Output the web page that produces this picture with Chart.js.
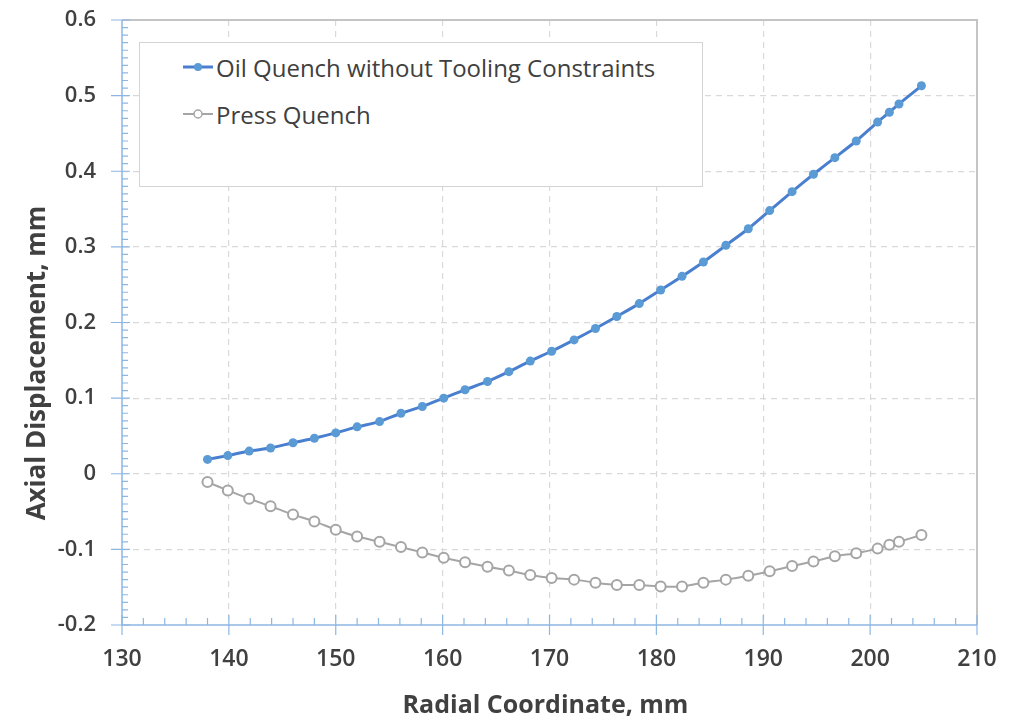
<!DOCTYPE html>
<html>
<head>
<meta charset="utf-8">
<script src="https://cdn.jsdelivr.net/npm/chart.js@4.4.1/dist/chart.umd.min.js"></script>
<style>
  html, body { margin: 0; padding: 0; background: #fff; }
  #wrap { position: relative; width: 1025px; height: 720px; }
  #legend {
    position: absolute; left: 139px; top: 42px; width: 564px; height: 145px;
    background: #fff; border: 1.5px solid #d4d4d4; box-sizing: border-box;
    font-family: "Open Sans", sans-serif; font-size: 24px; color: #404040;
  }
  .row { position: absolute; left: 43px; display: flex; align-items: center; height: 32px; }
  .row svg { margin-right: 3px; }
</style>
</head>
<body>
<div id="wrap">
  <canvas id="chart" width="1025" height="720"></canvas>
  <div id="legend">
    <div class="row" style="top:8px">
      <svg width="30" height="14"><line x1="0" y1="7" x2="30" y2="7" stroke="#4a7fcf" stroke-width="3"/><circle cx="15" cy="7" r="4" fill="#5b9bd5"/></svg>
      <span>Oil Quench without Tooling Constraints</span>
    </div>
    <div class="row" style="top:55px">
      <svg width="30" height="14"><line x1="0" y1="7" x2="30" y2="7" stroke="#a5a5a5" stroke-width="2"/><circle cx="15" cy="7" r="4" fill="#fff" stroke="#a5a5a5" stroke-width="1.5"/></svg>
      <span>Press Quench</span>
    </div>
  </div>
</div>
<script>
// data
const radial = [138.0, 139.9, 141.9, 143.9, 146.0, 148.0, 150.0, 152.0, 154.1, 156.1, 158.1, 160.1,
  162.1, 164.2, 166.2, 168.2, 170.2, 172.3, 174.3, 176.3, 178.4, 180.4, 182.4, 184.4, 186.5, 188.6,
  190.6, 192.7, 194.7, 196.7, 198.7, 200.7, 201.8, 202.7, 204.8];
const oilQuench = [0.019, 0.024, 0.030, 0.034, 0.041, 0.047, 0.054, 0.062, 0.069, 0.080, 0.089, 0.100,
  0.111, 0.122, 0.135, 0.149, 0.162, 0.177, 0.192, 0.208, 0.225, 0.243, 0.261, 0.280, 0.302, 0.324,
  0.348, 0.373, 0.396, 0.418, 0.440, 0.465, 0.478, 0.489, 0.513];
const pressQuench = [-0.011, -0.022, -0.033, -0.043, -0.054, -0.063, -0.074, -0.083, -0.090, -0.097,
  -0.104, -0.111, -0.117, -0.123, -0.128, -0.134, -0.138, -0.140, -0.144, -0.147, -0.147, -0.149,
  -0.149, -0.144, -0.140, -0.135, -0.129, -0.122, -0.116, -0.109, -0.105, -0.099, -0.094, -0.090, -0.081];

const xTicks = [130, 140, 150, 160, 170, 180, 190, 200, 210];
const yTicks = [-0.2, -0.1, 0, 0.1, 0.2, 0.3, 0.4, 0.5, 0.6];
const xTitle = 'Radial Coordinate, mm';
const yTitle = 'Axial Displacement, mm';

const axisBlue = '#8db7e3';
const gridGray = '#d9d9d9';

function pts(ys) {
  return radial.map((x, i) => ({ x: x, y: ys[i] }));
}

// grid line hidden on the edges (box and axes drawn by plugin)
function edgeHidden(min, max) {
  return c => (Math.abs(c.tick.value - min) < 1e-9 || Math.abs(c.tick.value - max) < 1e-9) ? 'rgba(0,0,0,0)' : gridGray;
}

// frame, minor ticks and axis titles
const decor = {
  id: 'decor',
  afterDraw(chart) {
    const ctx = chart.ctx;
    const a = chart.chartArea;
    const xs = chart.scales.x, ys = chart.scales.y;
    ctx.save();
    // top + right frame
    ctx.strokeStyle = '#c4c4c4';
    ctx.lineWidth = 2;
    ctx.beginPath();
    ctx.moveTo(a.left, a.top); ctx.lineTo(a.right, a.top); ctx.lineTo(a.right, a.bottom);
    ctx.stroke();
    // axes
    ctx.strokeStyle = axisBlue;
    ctx.lineWidth = 1.5;
    ctx.beginPath();
    ctx.moveTo(a.left, a.top); ctx.lineTo(a.left, a.bottom); ctx.lineTo(a.right, a.bottom);
    ctx.stroke();
    ctx.lineWidth = 1.2;
    ctx.beginPath();
    for (let v = 130; v <= 210.001; v += 2) {
      const px = xs.getPixelForValue(v);
      const major = Math.abs(v % 10) < 1e-6;
      ctx.moveTo(px, a.bottom - (major ? 10 : 7));
      ctx.lineTo(px, a.bottom + (major ? 10 : 0));
    }
    for (let k = -20; k <= 60; k++) {
      const py = ys.getPixelForValue(k / 100);
      const major = k % 10 === 0;
      ctx.moveTo(a.left - (major ? 11 : 0), py);
      ctx.lineTo(a.left + (major ? 8 : 6), py);
    }
    ctx.stroke();
    // titles
    ctx.fillStyle = '#404040';
    ctx.font = 'bold 25px "Open Sans", sans-serif';
    ctx.textAlign = 'center';
    ctx.textBaseline = 'middle';
    ctx.fillText(xTitle, (a.left + a.right) / 2 - 4, 706);
    ctx.translate(38, 363);
    ctx.rotate(-Math.PI / 2);
    ctx.font = 'bold 26px "Open Sans", sans-serif';
    ctx.fillText(yTitle, 0, 0);
    ctx.restore();
  }
};

new Chart(document.getElementById('chart'), {
  type: 'scatter',
  data: {
    datasets: [
      {
        label: 'Oil Quench without Tooling Constraints',
        data: pts(oilQuench),
        showLine: true,
        borderColor: '#4a7fcf',
        borderWidth: 3,
        backgroundColor: '#5b9bd5',
        pointBackgroundColor: '#5b9bd5',
        pointBorderColor: '#5b9bd5',
        pointRadius: 4.5,
        pointBorderWidth: 0,
        tension: 0.2
      },
      {
        label: 'Press Quench',
        data: pts(pressQuench),
        showLine: true,
        borderColor: '#a5a5a5',
        borderWidth: 2,
        backgroundColor: '#ffffff',
        pointBackgroundColor: '#ffffff',
        pointBorderColor: '#a5a5a5',
        pointRadius: 5,
        pointBorderWidth: 2,
        tension: 0.2
      }
    ]
  },
  options: {
    responsive: false,
    animation: false,
    events: [],
    layout: { padding: { top: 20, right: 48, left: 0, bottom: 0 } },
    plugins: { legend: { display: false }, tooltip: { enabled: false } },
    scales: {
      x: {
        type: 'linear',
        min: xTicks[0],
        max: xTicks[xTicks.length - 1],
        afterFit: s => { s.height = 95; s.paddingLeft = 0; s.paddingRight = 0; },
        afterBuildTicks: s => { s.ticks = xTicks.map(v => ({ value: v })); },
        grid: { color: edgeHidden(130, 210), lineWidth: 1.2, drawTicks: false },
        border: { display: false, dash: [6, 5] },
        ticks: {
          padding: 21,
          color: '#404040',
          font: { family: '"Open Sans", sans-serif', size: 23, weight: '600' }
        }
      },
      y: {
        type: 'linear',
        min: yTicks[0],
        max: yTicks[yTicks.length - 1],
        afterFit: s => { s.width = 122; s.paddingTop = 0; s.paddingBottom = 0; },
        afterBuildTicks: s => { s.ticks = yTicks.map(v => ({ value: v })); },
        grid: { color: edgeHidden(-0.2, 0.6), lineWidth: 1.2, drawTicks: false },
        border: { display: false, dash: [6, 5] },
        ticks: {
          padding: 26,
          color: '#404040',
          font: { family: '"Open Sans", sans-serif', size: 22, weight: '600' },
          callback: v => String(Math.round(v * 10) / 10)
        }
      }
    }
  },
  plugins: [decor]
});
</script>
</body>
</html>
